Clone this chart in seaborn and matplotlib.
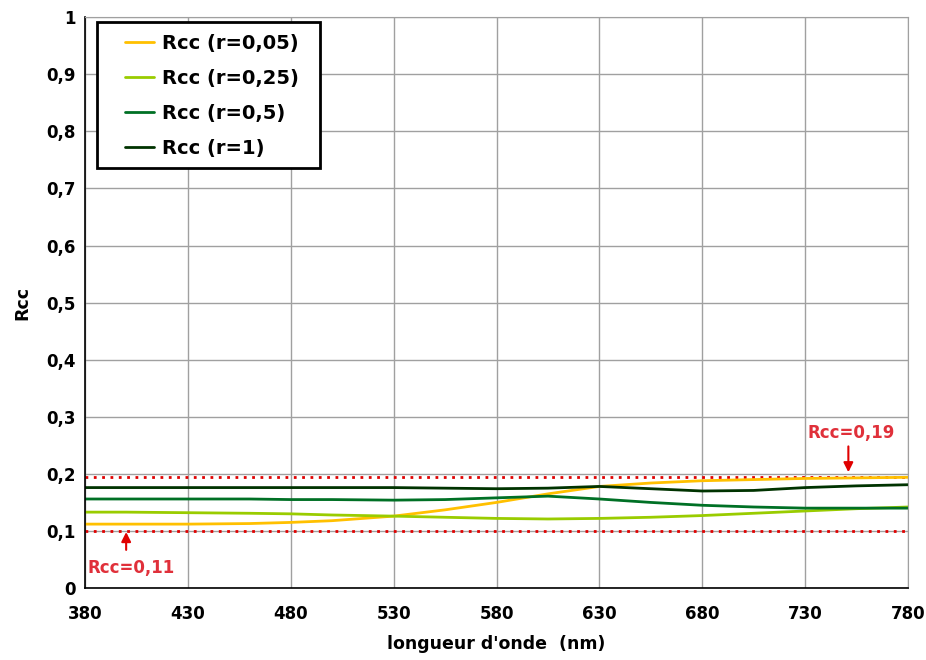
import numpy as np
import pandas as pd
import matplotlib
matplotlib.use("Agg")
import matplotlib.pyplot as plt
import matplotlib.patches as mpatches
import seaborn as sns

wavelength = [380, 400, 430, 460, 480, 500, 530, 555, 580, 605, 630, 655, 680, 705, 730, 755, 780]
rcc_005 = [0.112, 0.112, 0.112, 0.113, 0.115, 0.118, 0.126, 0.137, 0.150, 0.165, 0.178, 0.184, 0.188, 0.190, 0.192, 0.193, 0.194]
rcc_025 = [0.133, 0.133, 0.132, 0.131, 0.130, 0.128, 0.126, 0.124, 0.122, 0.121, 0.122, 0.124, 0.127, 0.131, 0.135, 0.139, 0.142]
rcc_05 = [0.156, 0.156, 0.156, 0.156, 0.155, 0.155, 0.154, 0.155, 0.158, 0.161, 0.156, 0.150, 0.145, 0.142, 0.140, 0.140, 0.140]
rcc_1 = [0.176, 0.176, 0.176, 0.176, 0.176, 0.176, 0.176, 0.175, 0.174, 0.175, 0.178, 0.174, 0.170, 0.171, 0.176, 0.179, 0.181]
series_names = ["Rcc (r=0,05)", "Rcc (r=0,25)", "Rcc (r=0,5)", "Rcc (r=1)"]
colors = ["#FFC000", "#99CC00", "#007025", "#003300"]
ref_low, ref_high = 0.10, 0.195
x_ticks = [380, 430, 480, 530, 580, 630, 680, 730, 780]
y_ticks = [0, 0.1, 0.2, 0.3, 0.4, 0.5, 0.6, 0.7, 0.8, 0.9, 1]
y_tick_labels = ["0", "0,1", "0,2", "0,3", "0,4", "0,5", "0,6", "0,7", "0,8", "0,9", "1"]

df = pd.concat([
    pd.DataFrame({"wl": wavelength, "rcc": vals, "serie": name})
    for name, vals in zip(series_names, [rcc_005, rcc_025, rcc_05, rcc_1])
])

sns.set_style("white")
plt.rcParams["font.family"] = ["DejaVu Sans"]
plt.rcParams["font.weight"] = "bold"
plt.rcParams["text.color"] = "black"
plt.rcParams["axes.labelcolor"] = "black"
plt.rcParams["xtick.color"] = "black"
plt.rcParams["ytick.color"] = "black"

fig = plt.figure(figsize=(9.26, 6.6), dpi=100)
ax = fig.add_axes([0.0918, 0.109, 0.8888, 0.865])

sns.lineplot(data=df, x="wl", y="rcc", hue="serie", palette=colors,
             hue_order=series_names, linewidth=2.0, ax=ax, legend=True)

ax.axhline(ref_low, color="#E00000", linestyle=(0, (1, 2.0)), linewidth=2.0, zorder=1)
ax.axhline(ref_high, color="#E00000", linestyle=(0, (1, 2.0)), linewidth=2.0, zorder=1)

ax.set_xlim(380, 780)
ax.set_ylim(0, 1)
ax.set_xticks(x_ticks)
ax.set_xticklabels([str(v) for v in x_ticks], fontsize=12, fontweight="bold", color="black")
ax.set_yticks(y_ticks)
ax.set_yticklabels(y_tick_labels, fontsize=12, fontweight="bold", color="black")
ax.grid(True, color="#a0a0a0", linewidth=1)
ax.set_axisbelow(True)
for s in ["top", "right"]:
    ax.spines[s].set_color("#a0a0a0")
for s in ["left", "bottom"]:
    ax.spines[s].set_color("black")
    ax.spines[s].set_linewidth(1.2)
ax.tick_params(axis="both", which="major", direction="inout", length=7, width=1, color="black", pad=3)
ax.tick_params(axis="x", pad=8.5)
ax.set_xlabel("longueur d'onde  (nm)", fontsize=12.5, fontweight="bold", labelpad=8.5, color="black")
ax.set_ylabel("Rcc", fontsize=12.5, fontweight="bold", labelpad=11, color="black")

# legend frame drawn as a rectangle, legend content without frame
frame = mpatches.Rectangle((0.0146, 0.7356), 0.2709, 0.2556, transform=ax.transAxes,
                           facecolor="white", edgecolor="black", linewidth=2.0, zorder=4)
ax.add_patch(frame)
leg = ax.legend(loc="upper left", bbox_to_anchor=(0.0486, 0.970), borderaxespad=0,
                frameon=False, fontsize=14, handlelength=1.5, labelspacing=0.81,
                borderpad=0, handletextpad=0.4)
leg.set_zorder(5)
for t in leg.get_texts():
    t.set_fontweight("bold")
    t.set_color("black")
for l in leg.get_lines():
    l.set_linewidth(2.0)

red_txt = "#E0303A"
ax.annotate("", xy=(400, ref_low + 0.003), xytext=(400, 0.062),
            arrowprops=dict(arrowstyle="-|>", color="#E00000", lw=1.5, mutation_scale=14))
ax.text(381, 0.026, "Rcc=0,11", color=red_txt, fontsize=12, fontweight="bold")
ax.annotate("", xy=(751, ref_high + 0.003), xytext=(751, 0.253),
            arrowprops=dict(arrowstyle="-|>", color="#E00000", lw=1.5, mutation_scale=14))
ax.text(731, 0.262, "Rcc=0,19", color=red_txt, fontsize=12, fontweight="bold")

fig.savefig("out.png", dpi=100)
